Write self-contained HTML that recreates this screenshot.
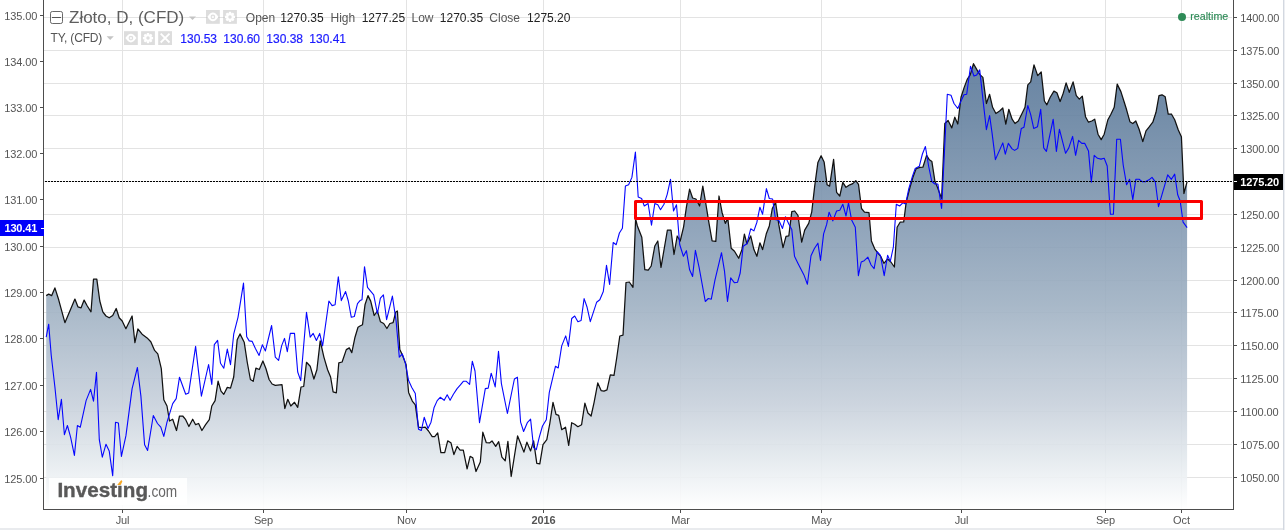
<!DOCTYPE html>
<html lang="pl"><head><meta charset="utf-8"><title>Złoto, D, (CFD)</title>
<style>html,body{margin:0;padding:0;background:#fff;overflow:hidden}svg{display:block;will-change:transform}text{font-family:"Liberation Sans", Arial, sans-serif}</style></head><body>
<svg width="1285" height="530" viewBox="0 0 1285 530">
<defs><linearGradient id="g" gradientUnits="userSpaceOnUse" x1="0" y1="0" x2="0" y2="509"><stop offset="0.0000" stop-color="#4a6b90"/><stop offset="0.1473" stop-color="#5c7a9b"/><stop offset="0.2063" stop-color="#627f9e"/><stop offset="0.4578" stop-color="#879db5"/><stop offset="0.5972" stop-color="#9eb0c2"/><stop offset="0.7937" stop-color="#c7d0db"/><stop offset="0.8939" stop-color="#e1e7ec"/><stop offset="1.0000" stop-color="#ffffff"/></linearGradient></defs>
<rect width="1285" height="530" fill="#fff"/>
<g stroke="#e3e3e3" stroke-width="1" shape-rendering="crispEdges">
<line x1="44" x2="1232" y1="17.5" y2="17.5"/>
<line x1="44" x2="1232" y1="50.5" y2="50.5"/>
<line x1="44" x2="1232" y1="83.5" y2="83.5"/>
<line x1="44" x2="1232" y1="115.5" y2="115.5"/>
<line x1="44" x2="1232" y1="148.5" y2="148.5"/>
<line x1="44" x2="1232" y1="181.5" y2="181.5"/>
<line x1="44" x2="1232" y1="214.5" y2="214.5"/>
<line x1="44" x2="1232" y1="247.5" y2="247.5"/>
<line x1="44" x2="1232" y1="280.5" y2="280.5"/>
<line x1="44" x2="1232" y1="312.5" y2="312.5"/>
<line x1="44" x2="1232" y1="345.5" y2="345.5"/>
<line x1="44" x2="1232" y1="378.5" y2="378.5"/>
<line x1="44" x2="1232" y1="411.5" y2="411.5"/>
<line x1="44" x2="1232" y1="444.5" y2="444.5"/>
<line x1="44" x2="1232" y1="477.5" y2="477.5"/>
<line x1="122.5" x2="122.5" y1="0" y2="509"/>
<line x1="263.5" x2="263.5" y1="0" y2="509"/>
<line x1="406.5" x2="406.5" y1="0" y2="509"/>
<line x1="543.5" x2="543.5" y1="0" y2="509"/>
<line x1="680.5" x2="680.5" y1="0" y2="509"/>
<line x1="821.5" x2="821.5" y1="0" y2="509"/>
<line x1="961.5" x2="961.5" y1="0" y2="509"/>
<line x1="1105.5" x2="1105.5" y1="0" y2="509"/>
<line x1="1181.5" x2="1181.5" y1="0" y2="509"/>
</g>
<path d="M46.2 295.6 L48.7 294.1 L51.7 295.6 L54.9 287.9 L58.7 299.8 L64.9 322.7 L70.4 309.8 L74.9 299.1 L77.9 306.8 L81.1 307.8 L84.1 300.1 L87.3 306.0 L91.0 311.8 L93.5 279.2 L96.8 279.2 L99.8 301.0 L102.8 311.8 L106.0 316.0 L109.2 317.8 L112.7 315.5 L116.2 308.5 L119.2 317.8 L122.2 321.0 L125.9 328.7 L132.1 316.0 L134.9 342.7 L137.9 329.0 L142.1 334.2 L147.1 337.9 L150.8 341.7 L154.6 350.4 L157.8 353.9 L161.3 368.7 L163.8 399.8 L167.0 406.0 L169.5 421.0 L172.7 419.2 L176.5 430.5 L179.5 416.0 L182.7 416.0 L185.7 419.7 L188.9 426.5 L192.7 419.2 L195.6 424.7 L198.6 423.5 L201.9 430.5 L205.6 424.7 L209.3 419.7 L211.8 406.0 L215.1 400.6 L218.1 381.1 L221.0 391.1 L223.8 394.3 L227.3 387.4 L230.5 388.1 L233.7 377.0 L237.2 339.7 L240.0 333.9 L244.2 342.2 L247.2 362.0 L250.4 379.5 L253.2 381.3 L255.9 368.2 L259.3 369.5 L262.9 361.0 L265.9 368.5 L269.1 379.5 L272.1 384.0 L275.3 385.3 L282.0 384.7 L284.8 408.5 L287.8 399.3 L290.8 406.0 L294.5 402.3 L297.7 407.3 L301.0 387.0 L303.7 386.5 L306.5 362.3 L310.2 366.2 L313.9 379.0 L316.9 369.7 L320.2 340.9 L323.9 357.1 L327.6 369.7 L330.6 377.0 L333.1 391.9 L336.3 392.9 L338.8 362.8 L342.1 362.0 L346.3 349.6 L349.3 347.9 L351.8 352.6 L355.0 337.2 L358.0 327.2 L360.0 326.0 L362.5 324.7 L365.0 304.8 L368.0 295.6 L370.7 301.1 L374.2 315.5 L377.4 311.0 L380.4 321.7 L383.7 323.5 L386.9 328.5 L389.9 323.5 L393.1 322.7 L395.6 312.3 L397.4 311.0 L399.8 349.6 L402.3 354.8 L406.1 364.8 L408.6 392.4 L412.3 401.1 L415.3 404.8 L418.5 427.2 L421.8 427.7 L425.2 427.2 L428.5 431.0 L432.2 436.7 L434.7 436.7 L437.7 432.9 L440.9 452.6 L444.7 452.6 L447.7 440.9 L450.9 442.7 L453.9 454.6 L457.1 446.4 L460.1 450.1 L463.3 450.1 L467.1 468.8 L470.1 456.4 L472.8 457.8 L476.0 471.5 L480.3 462.1 L482.8 432.2 L486.3 442.7 L489.5 442.9 L492.0 440.9 L495.7 446.4 L498.7 441.7 L501.9 457.1 L505.2 460.8 L507.9 441.4 L511.2 476.5 L517.6 435.9 L520.6 443.4 L523.9 452.1 L526.9 442.2 L530.6 450.9 L533.6 440.9 L536.8 463.3 L539.8 463.8 L543.0 444.7 L546.8 439.7 L549.8 423.5 L553.0 402.3 L556.0 414.3 L558.7 415.3 L561.7 429.7 L565.5 427.2 L568.7 445.4 L571.7 422.7 L574.7 424.2 L577.9 426.7 L581.6 424.7 L584.9 403.1 L587.9 413.0 L591.1 416.0 L594.1 402.3 L597.8 382.9 L601.1 390.6 L604.0 391.1 L607.0 389.9 L610.3 374.9 L614.0 375.4 L616.7 358.0 L619.8 336.0 L623.0 335.2 L626.0 282.5 L629.3 282.0 L633.0 287.3 L635.6 219.0 L637.4 226.0 L641.8 237.3 L644.8 269.6 L648.2 270.1 L651.2 266.0 L654.8 246.0 L657.8 241.0 L661.0 267.4 L667.4 230.0 L671.0 230.0 L674.0 254.5 L677.2 236.0 L680.2 241.0 L683.6 226.8 L686.4 207.2 L689.6 189.1 L692.6 198.0 L695.9 199.0 L699.6 206.0 L702.8 186.1 L705.8 203.5 L708.8 222.2 L712.1 240.9 L715.8 241.4 L719.0 196.0 L722.0 212.2 L725.3 223.4 L727.8 218.4 L731.2 248.3 L734.5 251.3 L738.7 258.3 L741.9 249.6 L744.4 234.1 L746.9 243.8 L750.7 235.9 L753.9 249.6 L756.9 256.3 L759.9 242.8 L762.6 249.6 L766.4 233.4 L769.3 225.9 L772.3 208.5 L775.6 202.3 L778.8 224.7 L783.0 247.6 L786.0 236.4 L788.8 235.9 L791.8 211.7 L794.7 211.0 L798.0 215.5 L801.7 242.1 L804.7 230.1 L808.7 223.4 L811.7 212.2 L814.7 186.1 L817.9 162.4 L821.1 155.7 L824.1 161.9 L827.1 184.8 L829.6 186.1 L833.6 159.4 L836.6 192.3 L839.8 196.0 L842.8 182.3 L846.0 187.3 L849.8 184.8 L852.8 183.6 L855.8 180.6 L858.5 184.3 L861.5 208.5 L864.5 212.2 L869.0 212.7 L871.4 240.9 L874.7 248.8 L877.7 252.8 L880.7 256.3 L883.9 263.3 L887.6 259.0 L890.9 262.0 L894.4 267.0 L897.1 227.2 L900.1 222.2 L903.7 222.0 L906.2 202.2 L910.0 187.3 L912.9 177.3 L916.2 168.6 L919.9 167.4 L922.9 167.2 L926.6 155.4 L929.4 159.8 L931.9 161.6 L934.9 181.1 L937.9 188.5 L941.6 198.5 L944.8 123.5 L948.1 120.5 L951.8 127.9 L954.8 117.2 L957.8 124.0 L961.0 97.3 L964.2 87.4 L967.2 79.4 L970.2 74.9 L973.5 63.7 L976.7 69.4 L979.7 74.4 L982.9 77.4 L986.4 103.5 L989.6 94.3 L992.6 107.3 L995.9 113.5 L999.6 111.0 L1002.8 108.0 L1005.8 124.2 L1008.8 109.3 L1012.1 119.2 L1015.0 123.5 L1018.3 121.0 L1022.0 113.5 L1025.0 107.3 L1027.8 84.9 L1030.7 81.9 L1034.0 64.9 L1037.7 75.6 L1041.2 71.9 L1044.4 101.0 L1046.9 104.8 L1050.2 97.3 L1053.9 91.1 L1056.9 92.8 L1060.1 101.5 L1063.1 93.6 L1066.1 82.9 L1069.3 92.3 L1073.1 81.9 L1076.3 95.6 L1079.3 99.1 L1082.3 96.1 L1085.5 116.7 L1088.5 122.2 L1091.8 121.0 L1094.7 119.2 L1098.0 134.2 L1101.2 139.6 L1104.2 134.2 L1107.9 119.7 L1110.9 114.2 L1114.2 107.3 L1117.2 84.1 L1120.9 91.6 L1124.1 101.8 L1126.6 109.8 L1129.9 121.7 L1132.8 123.5 L1135.8 121.0 L1139.1 129.2 L1142.8 141.6 L1146.0 130.9 L1149.0 127.2 L1152.8 122.2 L1156.0 112.3 L1159.0 95.6 L1162.0 94.8 L1165.2 96.8 L1168.2 114.2 L1171.4 114.0 L1174.7 119.7 L1178.2 129.7 L1181.4 136.7 L1183.9 193.5 L1187.1 181.6 L1187.1 509.5 L46.2 509.5 Z" fill="url(#g)" fill-opacity="0.90" stroke="none"/>
<path d="M46.2 295.6 L48.7 294.1 L51.7 295.6 L54.9 287.9 L58.7 299.8 L64.9 322.7 L70.4 309.8 L74.9 299.1 L77.9 306.8 L81.1 307.8 L84.1 300.1 L87.3 306.0 L91.0 311.8 L93.5 279.2 L96.8 279.2 L99.8 301.0 L102.8 311.8 L106.0 316.0 L109.2 317.8 L112.7 315.5 L116.2 308.5 L119.2 317.8 L122.2 321.0 L125.9 328.7 L132.1 316.0 L134.9 342.7 L137.9 329.0 L142.1 334.2 L147.1 337.9 L150.8 341.7 L154.6 350.4 L157.8 353.9 L161.3 368.7 L163.8 399.8 L167.0 406.0 L169.5 421.0 L172.7 419.2 L176.5 430.5 L179.5 416.0 L182.7 416.0 L185.7 419.7 L188.9 426.5 L192.7 419.2 L195.6 424.7 L198.6 423.5 L201.9 430.5 L205.6 424.7 L209.3 419.7 L211.8 406.0 L215.1 400.6 L218.1 381.1 L221.0 391.1 L223.8 394.3 L227.3 387.4 L230.5 388.1 L233.7 377.0 L237.2 339.7 L240.0 333.9 L244.2 342.2 L247.2 362.0 L250.4 379.5 L253.2 381.3 L255.9 368.2 L259.3 369.5 L262.9 361.0 L265.9 368.5 L269.1 379.5 L272.1 384.0 L275.3 385.3 L282.0 384.7 L284.8 408.5 L287.8 399.3 L290.8 406.0 L294.5 402.3 L297.7 407.3 L301.0 387.0 L303.7 386.5 L306.5 362.3 L310.2 366.2 L313.9 379.0 L316.9 369.7 L320.2 340.9 L323.9 357.1 L327.6 369.7 L330.6 377.0 L333.1 391.9 L336.3 392.9 L338.8 362.8 L342.1 362.0 L346.3 349.6 L349.3 347.9 L351.8 352.6 L355.0 337.2 L358.0 327.2 L360.0 326.0 L362.5 324.7 L365.0 304.8 L368.0 295.6 L370.7 301.1 L374.2 315.5 L377.4 311.0 L380.4 321.7 L383.7 323.5 L386.9 328.5 L389.9 323.5 L393.1 322.7 L395.6 312.3 L397.4 311.0 L399.8 349.6 L402.3 354.8 L406.1 364.8 L408.6 392.4 L412.3 401.1 L415.3 404.8 L418.5 427.2 L421.8 427.7 L425.2 427.2 L428.5 431.0 L432.2 436.7 L434.7 436.7 L437.7 432.9 L440.9 452.6 L444.7 452.6 L447.7 440.9 L450.9 442.7 L453.9 454.6 L457.1 446.4 L460.1 450.1 L463.3 450.1 L467.1 468.8 L470.1 456.4 L472.8 457.8 L476.0 471.5 L480.3 462.1 L482.8 432.2 L486.3 442.7 L489.5 442.9 L492.0 440.9 L495.7 446.4 L498.7 441.7 L501.9 457.1 L505.2 460.8 L507.9 441.4 L511.2 476.5 L517.6 435.9 L520.6 443.4 L523.9 452.1 L526.9 442.2 L530.6 450.9 L533.6 440.9 L536.8 463.3 L539.8 463.8 L543.0 444.7 L546.8 439.7 L549.8 423.5 L553.0 402.3 L556.0 414.3 L558.7 415.3 L561.7 429.7 L565.5 427.2 L568.7 445.4 L571.7 422.7 L574.7 424.2 L577.9 426.7 L581.6 424.7 L584.9 403.1 L587.9 413.0 L591.1 416.0 L594.1 402.3 L597.8 382.9 L601.1 390.6 L604.0 391.1 L607.0 389.9 L610.3 374.9 L614.0 375.4 L616.7 358.0 L619.8 336.0 L623.0 335.2 L626.0 282.5 L629.3 282.0 L633.0 287.3 L635.6 219.0 L637.4 226.0 L641.8 237.3 L644.8 269.6 L648.2 270.1 L651.2 266.0 L654.8 246.0 L657.8 241.0 L661.0 267.4 L667.4 230.0 L671.0 230.0 L674.0 254.5 L677.2 236.0 L680.2 241.0 L683.6 226.8 L686.4 207.2 L689.6 189.1 L692.6 198.0 L695.9 199.0 L699.6 206.0 L702.8 186.1 L705.8 203.5 L708.8 222.2 L712.1 240.9 L715.8 241.4 L719.0 196.0 L722.0 212.2 L725.3 223.4 L727.8 218.4 L731.2 248.3 L734.5 251.3 L738.7 258.3 L741.9 249.6 L744.4 234.1 L746.9 243.8 L750.7 235.9 L753.9 249.6 L756.9 256.3 L759.9 242.8 L762.6 249.6 L766.4 233.4 L769.3 225.9 L772.3 208.5 L775.6 202.3 L778.8 224.7 L783.0 247.6 L786.0 236.4 L788.8 235.9 L791.8 211.7 L794.7 211.0 L798.0 215.5 L801.7 242.1 L804.7 230.1 L808.7 223.4 L811.7 212.2 L814.7 186.1 L817.9 162.4 L821.1 155.7 L824.1 161.9 L827.1 184.8 L829.6 186.1 L833.6 159.4 L836.6 192.3 L839.8 196.0 L842.8 182.3 L846.0 187.3 L849.8 184.8 L852.8 183.6 L855.8 180.6 L858.5 184.3 L861.5 208.5 L864.5 212.2 L869.0 212.7 L871.4 240.9 L874.7 248.8 L877.7 252.8 L880.7 256.3 L883.9 263.3 L887.6 259.0 L890.9 262.0 L894.4 267.0 L897.1 227.2 L900.1 222.2 L903.7 222.0 L906.2 202.2 L910.0 187.3 L912.9 177.3 L916.2 168.6 L919.9 167.4 L922.9 167.2 L926.6 155.4 L929.4 159.8 L931.9 161.6 L934.9 181.1 L937.9 188.5 L941.6 198.5 L944.8 123.5 L948.1 120.5 L951.8 127.9 L954.8 117.2 L957.8 124.0 L961.0 97.3 L964.2 87.4 L967.2 79.4 L970.2 74.9 L973.5 63.7 L976.7 69.4 L979.7 74.4 L982.9 77.4 L986.4 103.5 L989.6 94.3 L992.6 107.3 L995.9 113.5 L999.6 111.0 L1002.8 108.0 L1005.8 124.2 L1008.8 109.3 L1012.1 119.2 L1015.0 123.5 L1018.3 121.0 L1022.0 113.5 L1025.0 107.3 L1027.8 84.9 L1030.7 81.9 L1034.0 64.9 L1037.7 75.6 L1041.2 71.9 L1044.4 101.0 L1046.9 104.8 L1050.2 97.3 L1053.9 91.1 L1056.9 92.8 L1060.1 101.5 L1063.1 93.6 L1066.1 82.9 L1069.3 92.3 L1073.1 81.9 L1076.3 95.6 L1079.3 99.1 L1082.3 96.1 L1085.5 116.7 L1088.5 122.2 L1091.8 121.0 L1094.7 119.2 L1098.0 134.2 L1101.2 139.6 L1104.2 134.2 L1107.9 119.7 L1110.9 114.2 L1114.2 107.3 L1117.2 84.1 L1120.9 91.6 L1124.1 101.8 L1126.6 109.8 L1129.9 121.7 L1132.8 123.5 L1135.8 121.0 L1139.1 129.2 L1142.8 141.6 L1146.0 130.9 L1149.0 127.2 L1152.8 122.2 L1156.0 112.3 L1159.0 95.6 L1162.0 94.8 L1165.2 96.8 L1168.2 114.2 L1171.4 114.0 L1174.7 119.7 L1178.2 129.7 L1181.4 136.7 L1183.9 193.5 L1187.1 181.6" fill="none" stroke="#111" stroke-width="1.25" stroke-linejoin="round"/>
<path d="M46.2 337.2 L48.7 324.2 L51.2 355.0 L54.9 387.0 L58.2 419.7 L61.4 399.3 L64.4 434.7 L67.4 425.5 L70.6 437.2 L74.4 455.4 L77.4 425.5 L80.3 427.2 L86.1 400.6 L90.6 389.4 L93.5 401.1 L96.5 372.2 L99.3 439.7 L102.3 457.1 L106.0 444.2 L109.2 450.9 L112.7 475.8 L115.5 422.2 L118.4 423.0 L121.4 456.4 L125.9 435.9 L132.1 388.6 L137.4 367.5 L140.9 396.1 L144.6 444.7 L147.6 450.4 L153.3 415.5 L157.5 423.5 L160.8 427.2 L163.8 436.4 L167.0 422.2 L172.7 403.6 L176.2 398.6 L179.5 377.2 L185.7 394.3 L188.7 392.9 L195.6 346.4 L201.4 396.1 L208.6 364.5 L211.8 384.4 L214.3 344.7 L217.6 340.4 L220.5 363.3 L223.8 368.2 L227.3 349.1 L230.5 364.6 L233.7 334.2 L238.0 317.3 L243.5 283.1 L246.7 336.7 L249.2 340.9 L252.2 341.4 L255.4 348.4 L259.1 355.4 L262.4 344.7 L265.4 350.9 L271.6 325.5 L275.3 357.1 L278.6 360.3 L281.6 345.9 L284.5 338.4 L287.3 351.6 L290.3 333.4 L294.5 333.4 L297.7 372.0 L300.7 380.6 L306.5 312.3 L310.2 337.2 L313.2 333.4 L316.4 340.4 L319.7 333.4 L322.6 345.9 L328.9 301.0 L332.1 305.6 L335.1 304.8 L338.3 276.7 L341.3 300.6 L345.6 291.6 L348.3 301.0 L351.3 317.3 L354.3 316.5 L357.5 303.6 L360.0 300.6 L362.0 299.8 L364.5 266.7 L367.5 287.4 L373.7 294.8 L377.4 313.5 L380.4 298.1 L383.4 294.8 L386.6 319.7 L392.4 296.1 L396.1 321.0 L399.3 357.1 L402.3 354.0 L405.3 362.9 L408.6 380.5 L411.8 387.4 L415.3 393.6 L418.5 429.2 L421.3 430.5 L424.2 417.3 L428.0 428.5 L431.0 422.2 L434.0 407.8 L437.2 400.6 L440.2 397.3 L444.2 400.3 L447.2 394.8 L450.1 400.3 L453.4 394.3 L457.1 388.6 L460.4 384.9 L463.3 381.3 L466.3 381.3 L469.6 384.4 L472.3 361.2 L475.0 371.0 L479.5 422.7 L485.3 388.6 L488.2 388.1 L491.2 373.2 L495.2 386.9 L498.5 351.4 L501.4 383.6 L507.4 413.5 L514.4 379.0 L517.4 377.2 L520.6 422.2 L523.6 431.5 L527.3 422.7 L530.6 419.2 L533.6 447.6 L536.3 449.6 L539.3 437.2 L542.5 426.0 L546.3 419.7 L549.3 392.4 L555.5 366.2 L558.2 368.0 L561.7 345.9 L565.7 335.9 L568.4 346.4 L571.7 318.5 L574.7 316.0 L577.9 321.7 L581.1 320.5 L584.1 298.6 L587.1 307.3 L590.3 321.7 L596.6 302.3 L599.8 299.8 L603.3 291.5 L606.5 265.4 L609.6 284.4 L613.2 242.5 L616.2 244.7 L619.4 233.0 L622.4 228.2 L625.4 186.1 L628.6 184.8 L631.9 177.4 L635.4 152.0 L638.2 197.0 L641.6 198.5 L644.3 206.0 L648.1 203.5 L651.5 225.2 L654.8 203.5 L657.8 204.7 L660.5 209.7 L664.0 204.2 L667.2 194.3 L670.5 179.3 L673.5 211.0 L676.5 204.7 L679.7 244.5 L683.4 256.3 L686.4 250.7 L689.6 269.8 L692.6 276.5 L695.4 250.4 L699.1 267.3 L705.3 301.5 L708.3 298.5 L711.3 299.2 L715.0 279.8 L721.5 252.7 L724.5 271.1 L727.5 301.5 L730.7 277.8 L734.5 282.8 L737.5 282.3 L740.2 273.0 L743.2 246.3 L746.9 243.8 L750.7 228.8 L753.9 230.9 L756.9 222.2 L759.9 207.2 L762.6 214.2 L766.4 188.6 L769.3 198.5 L772.6 199.0 L775.6 219.7 L778.8 220.2 L782.5 228.4 L785.5 216.7 L788.8 223.9 L791.8 229.6 L794.5 256.3 L798.0 263.4 L804.2 275.6 L807.4 284.3 L811.0 255.7 L814.4 248.5 L817.9 243.2 L820.5 260.4 L823.6 233.9 L826.6 224.7 L829.1 212.2 L832.8 220.9 L836.6 211.0 L839.8 210.2 L842.8 204.2 L846.0 216.0 L848.5 202.8 L851.5 219.7 L855.3 227.3 L858.4 275.6 L861.2 262.0 L864.2 260.7 L867.9 257.2 L871.1 265.0 L874.1 268.6 L877.2 251.7 L880.4 255.3 L884.2 275.6 L887.6 255.3 L890.3 261.4 L893.4 246.8 L896.3 204.2 L899.6 206.0 L902.8 202.8 L905.6 204.0 L908.8 188.6 L912.5 176.1 L915.2 168.5 L919.3 166.3 L922.4 154.0 L925.4 146.5 L928.6 166.0 L931.8 181.5 L934.9 184.0 L937.9 184.0 L941.6 208.5 L947.3 94.3 L951.0 95.3 L954.0 103.5 L957.8 108.5 L961.0 101.0 L964.0 94.8 L966.7 94.3 L970.5 66.2 L974.0 76.1 L976.7 74.9 L979.7 69.9 L983.4 103.5 L986.4 129.7 L989.6 115.5 L992.1 133.4 L995.4 159.6 L1002.8 142.9 L1005.3 154.1 L1008.3 143.4 L1012.1 148.9 L1014.6 150.4 L1017.8 148.4 L1021.3 128.4 L1024.0 127.2 L1027.8 105.5 L1030.7 114.7 L1033.7 128.4 L1037.5 126.7 L1040.7 109.3 L1043.7 147.9 L1046.4 151.4 L1053.2 119.2 L1056.4 151.4 L1059.4 129.2 L1065.6 153.3 L1068.8 147.9 L1072.6 136.4 L1075.6 155.3 L1078.6 140.4 L1081.8 143.4 L1084.8 143.4 L1088.5 150.9 L1091.3 182.3 L1094.2 155.3 L1097.5 158.3 L1101.0 159.1 L1104.2 158.3 L1107.2 166.0 L1110.4 214.2 L1113.4 214.2 L1116.7 139.2 L1120.4 139.2 L1123.2 165.0 L1126.6 184.8 L1129.6 179.3 L1132.8 199.7 L1135.8 179.3 L1139.1 179.3 L1142.1 181.6 L1145.8 181.6 L1149.0 179.8 L1152.0 177.3 L1155.3 181.8 L1158.5 206.7 L1167.7 174.8 L1171.4 179.3 L1174.7 174.1 L1177.7 194.8 L1180.2 201.0 L1183.1 222.2 L1187.1 227.6" fill="none" stroke="#0606ff" stroke-width="1.1" stroke-linejoin="round"/>
<line x1="45" x2="1233" y1="181.5" y2="181.5" stroke="#000" stroke-width="1" stroke-dasharray="2 1" shape-rendering="crispEdges"/>
<rect x="635.5" y="201.5" width="566" height="17" fill="none" stroke="#fb0000" stroke-width="3" stroke-linejoin="round"/>
<rect x="49" y="478" width="138" height="27" fill="#fff" fill-opacity="0.85"/>
<text x="57.4" y="497.4" font-size="21" font-weight="bold" fill="#585858" stroke="#585858" stroke-width="0.4" textLength="90.6" lengthAdjust="spacingAndGlyphs">Investing</text>
<text x="147.6" y="497.4" font-size="16.5" fill="#666" textLength="29.6" lengthAdjust="spacingAndGlyphs">.com</text>
<rect x="117.6" y="480" width="5" height="4.7" fill="#fcfcfd"/>
<path d="M117.2 484.9 L121.3 480.0 L122.4 481.4 L120.6 484.9 Z" fill="#f7a823"/>
<g stroke="#4d4d4d" stroke-width="1" shape-rendering="crispEdges">
<line x1="43.5" x2="43.5" y1="0" y2="510"/>
<line x1="1233.5" x2="1233.5" y1="0" y2="510"/>
<line x1="43" x2="1234" y1="509.5" y2="509.5"/>
<line x1="40" x2="44" y1="15.5" y2="15.5"/>
<line x1="40" x2="44" y1="61.5" y2="61.5"/>
<line x1="40" x2="44" y1="107.5" y2="107.5"/>
<line x1="40" x2="44" y1="153.5" y2="153.5"/>
<line x1="40" x2="44" y1="199.5" y2="199.5"/>
<line x1="40" x2="44" y1="246.5" y2="246.5"/>
<line x1="40" x2="44" y1="292.5" y2="292.5"/>
<line x1="40" x2="44" y1="338.5" y2="338.5"/>
<line x1="40" x2="44" y1="385.5" y2="385.5"/>
<line x1="40" x2="44" y1="431.5" y2="431.5"/>
<line x1="40" x2="44" y1="478.5" y2="478.5"/>
<line x1="1234" x2="1237" y1="17.5" y2="17.5"/>
<line x1="1234" x2="1237" y1="50.5" y2="50.5"/>
<line x1="1234" x2="1237" y1="83.5" y2="83.5"/>
<line x1="1234" x2="1237" y1="115.5" y2="115.5"/>
<line x1="1234" x2="1237" y1="148.5" y2="148.5"/>
<line x1="1234" x2="1237" y1="181.5" y2="181.5"/>
<line x1="1234" x2="1237" y1="214.5" y2="214.5"/>
<line x1="1234" x2="1237" y1="247.5" y2="247.5"/>
<line x1="1234" x2="1237" y1="280.5" y2="280.5"/>
<line x1="1234" x2="1237" y1="312.5" y2="312.5"/>
<line x1="1234" x2="1237" y1="345.5" y2="345.5"/>
<line x1="1234" x2="1237" y1="378.5" y2="378.5"/>
<line x1="1234" x2="1237" y1="411.5" y2="411.5"/>
<line x1="1234" x2="1237" y1="444.5" y2="444.5"/>
<line x1="1234" x2="1237" y1="477.5" y2="477.5"/>
<line x1="122.5" x2="122.5" y1="510" y2="513"/>
<line x1="263.5" x2="263.5" y1="510" y2="513"/>
<line x1="406.5" x2="406.5" y1="510" y2="513"/>
<line x1="543.5" x2="543.5" y1="510" y2="513"/>
<line x1="680.5" x2="680.5" y1="510" y2="513"/>
<line x1="821.5" x2="821.5" y1="510" y2="513"/>
<line x1="961.5" x2="961.5" y1="510" y2="513"/>
<line x1="1105.5" x2="1105.5" y1="510" y2="513"/>
<line x1="1181.5" x2="1181.5" y1="510" y2="513"/>
</g>
<g font-size="11" fill="#555" letter-spacing="-0.12">
<text x="37.2" text-anchor="end" y="19.7">135.00</text>
<text x="37.2" text-anchor="end" y="65.7">134.00</text>
<text x="37.2" text-anchor="end" y="111.7">133.00</text>
<text x="37.2" text-anchor="end" y="157.7">132.00</text>
<text x="37.2" text-anchor="end" y="203.7">131.00</text>
<text x="37.2" text-anchor="end" y="250.7">130.00</text>
<text x="37.2" text-anchor="end" y="296.7">129.00</text>
<text x="37.2" text-anchor="end" y="342.7">128.00</text>
<text x="37.2" text-anchor="end" y="389.7">127.00</text>
<text x="37.2" text-anchor="end" y="435.7">126.00</text>
<text x="37.2" text-anchor="end" y="482.7">125.00</text>
<text x="1240.3" y="21.7">1400.00</text>
<text x="1240.3" y="54.7">1375.00</text>
<text x="1240.3" y="87.7">1350.00</text>
<text x="1240.3" y="119.7">1325.00</text>
<text x="1240.3" y="152.7">1300.00</text>
<text x="1240.3" y="185.7">1275.00</text>
<text x="1240.3" y="218.7">1250.00</text>
<text x="1240.3" y="251.7">1225.00</text>
<text x="1240.3" y="284.7">1200.00</text>
<text x="1240.3" y="316.7">1175.00</text>
<text x="1240.3" y="349.7">1150.00</text>
<text x="1240.3" y="382.7">1125.00</text>
<text x="1240.3" y="415.7">1100.00</text>
<text x="1240.3" y="448.7">1075.00</text>
<text x="1240.3" y="481.7">1050.00</text>
<text x="122.5" y="524" text-anchor="middle">Jul</text>
<text x="263.5" y="524" text-anchor="middle">Sep</text>
<text x="406.5" y="524" text-anchor="middle">Nov</text>
<text x="543.5" y="524" text-anchor="middle" font-weight="bold">2016</text>
<text x="680.5" y="524" text-anchor="middle">Mar</text>
<text x="821.5" y="524" text-anchor="middle">May</text>
<text x="961.5" y="524" text-anchor="middle">Jul</text>
<text x="1105.5" y="524" text-anchor="middle">Sep</text>
<text x="1181.5" y="524" text-anchor="middle">Oct</text>
</g>
<rect x="0" y="220" width="44" height="16" fill="#0000fa"/>
<line x1="41" x2="44" y1="228.5" y2="228.5" stroke="#fff" stroke-width="1" shape-rendering="crispEdges"/>
<text x="37.2" text-anchor="end" y="232.2" font-size="11" font-weight="bold" letter-spacing="-0.15" fill="#fff">130.41</text>
<rect x="1234" y="174" width="50" height="16" fill="#000"/>
<line x1="1234" x2="1237" y1="181.5" y2="181.5" stroke="#fff" stroke-width="1" shape-rendering="crispEdges"/>
<text x="1240.3" y="185.7" font-size="11" font-weight="bold" letter-spacing="-0.15" fill="#fff">1275.20</text>
<rect x="50.5" y="11.5" width="12" height="12" rx="1.8" fill="none" stroke="#686868" stroke-width="1"/>
<line x1="52" x2="61" y1="17.5" y2="17.5" stroke="#555" stroke-width="1" shape-rendering="crispEdges"/>
<text x="69" y="23.4" font-size="17" fill="#5e5e5e">Złoto, D, (CFD)</text>
<path d="M189 16.5 h7 l-3.5 3.5 Z" fill="#c4c4c4"/>
<rect x="206.0" y="10.0" width="13.8" height="13.8" fill="#bcbcbc" fill-opacity="0.5"/><path d="M207.38 16.90 Q212.90 8.34 218.42 16.90 Q212.90 25.46 207.38 16.90 Z" fill="#fff"/><circle cx="212.90" cy="16.90" r="2.35" fill="#dedede"/><circle cx="212.90" cy="16.90" r="1.17" fill="#fafafa"/>
<rect x="223.1" y="10.0" width="13.8" height="13.8" fill="#bcbcbc" fill-opacity="0.5"/><circle cx="230.00" cy="16.90" r="3.86" fill="#fff"/><line x1="233.09" y1="16.90" x2="235.11" y2="16.90" stroke="#fff" stroke-width="2.35"/><line x1="232.19" y1="19.09" x2="233.61" y2="20.51" stroke="#fff" stroke-width="2.35"/><line x1="230.00" y1="19.99" x2="230.00" y2="22.01" stroke="#fff" stroke-width="2.35"/><line x1="227.81" y1="19.09" x2="226.39" y2="20.51" stroke="#fff" stroke-width="2.35"/><line x1="226.91" y1="16.90" x2="224.89" y2="16.90" stroke="#fff" stroke-width="2.35"/><line x1="227.81" y1="14.71" x2="226.39" y2="13.29" stroke="#fff" stroke-width="2.35"/><line x1="230.00" y1="13.81" x2="230.00" y2="11.79" stroke="#fff" stroke-width="2.35"/><line x1="232.19" y1="14.71" x2="233.61" y2="13.29" stroke="#fff" stroke-width="2.35"/><circle cx="230.00" cy="16.90" r="1.73" fill="#dedede"/>
<g font-size="12">
<text x="245.8" y="21.8" fill="#555">Open</text>
<text x="280.2" y="21.8" fill="#222">1270.35</text>
<text x="330.5" y="21.8" fill="#555">High</text>
<text x="361.7" y="21.8" fill="#222">1277.25</text>
<text x="411.5" y="21.8" fill="#555">Low</text>
<text x="439.8" y="21.8" fill="#222">1270.35</text>
<text x="489.3" y="21.8" fill="#555">Close</text>
<text x="527.1" y="21.8" fill="#222">1275.20</text>
</g>
<text x="50.6" y="42.4" font-size="12" letter-spacing="-0.17" fill="#555">TY, (CFD)</text>
<path d="M106.6 36.3 h7.2 l-3.6 3.6 Z" fill="#c4c4c4"/>
<rect x="124.0" y="31.2" width="13.8" height="13.8" fill="#bcbcbc" fill-opacity="0.5"/><path d="M125.38 38.10 Q130.90 29.54 136.42 38.10 Q130.90 46.66 125.38 38.10 Z" fill="#fff"/><circle cx="130.90" cy="38.10" r="2.35" fill="#dedede"/><circle cx="130.90" cy="38.10" r="1.17" fill="#fafafa"/>
<rect x="141.1" y="31.2" width="13.8" height="13.8" fill="#bcbcbc" fill-opacity="0.5"/><circle cx="148.00" cy="38.10" r="3.86" fill="#fff"/><line x1="151.09" y1="38.10" x2="153.11" y2="38.10" stroke="#fff" stroke-width="2.35"/><line x1="150.19" y1="40.29" x2="151.61" y2="41.71" stroke="#fff" stroke-width="2.35"/><line x1="148.00" y1="41.19" x2="148.00" y2="43.21" stroke="#fff" stroke-width="2.35"/><line x1="145.81" y1="40.29" x2="144.39" y2="41.71" stroke="#fff" stroke-width="2.35"/><line x1="144.91" y1="38.10" x2="142.89" y2="38.10" stroke="#fff" stroke-width="2.35"/><line x1="145.81" y1="35.91" x2="144.39" y2="34.49" stroke="#fff" stroke-width="2.35"/><line x1="148.00" y1="35.01" x2="148.00" y2="32.99" stroke="#fff" stroke-width="2.35"/><line x1="150.19" y1="35.91" x2="151.61" y2="34.49" stroke="#fff" stroke-width="2.35"/><circle cx="148.00" cy="38.10" r="1.73" fill="#dedede"/>
<rect x="158.2" y="31.2" width="13.8" height="13.8" fill="#bcbcbc" fill-opacity="0.5"/><path d="M160.7 33.7 L169.5 42.5 M169.5 33.7 L160.7 42.5" stroke="#fff" stroke-width="1.8" fill="none"/>
<g font-size="12" fill="#1c1cff" stroke="#1c1cff" stroke-width="0.2">
<text x="180.3" y="42.5">130.53</text>
<text x="223.3" y="42.5">130.60</text>
<text x="266.3" y="42.5">130.38</text>
<text x="309.3" y="42.5">130.41</text>
</g>
<circle cx="1182" cy="17" r="4" fill="#2e8b57"/>
<text x="1190.3" y="19.8" font-size="10.7" fill="#2e8b57" stroke="#2e8b57" stroke-width="0.15">realtime</text>
<rect x="0" y="528" width="1285" height="2" fill="#e9ebee"/>
<rect x="1283" y="0" width="1" height="530" fill="#d3d8e0"/><rect x="1284" y="0" width="1" height="530" fill="#eceef2"/>
</svg></body></html>
